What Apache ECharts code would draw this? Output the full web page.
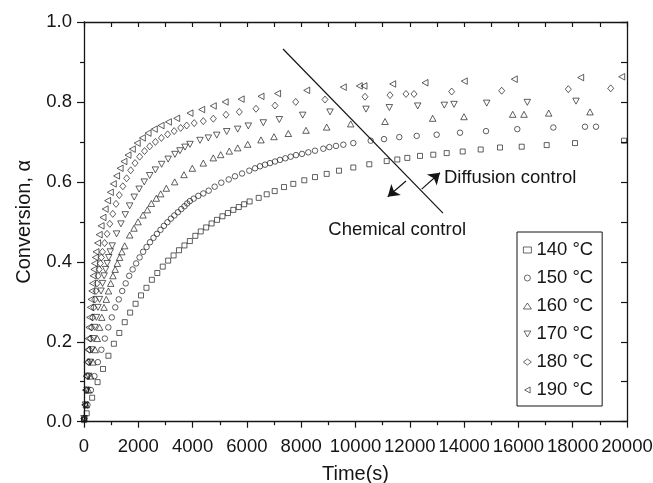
<!DOCTYPE html>
<html><head><meta charset="utf-8">
<script src="https://cdn.jsdelivr.net/npm/echarts@6/dist/echarts.min.js"></script>
<style>html,body{margin:0;padding:0;background:#fff}#c{width:653px;height:483px}</style>
</head><body><div id="c"></div>
<script>
// ---- data (time in s, conversion alpha) ----
const seriesNames = ['140 °C','150 °C','160 °C','170 °C','180 °C','190 °C'];
const s140 = [[0,0.004],[100,0.021],[300,0.06],[500,0.099],[700,0.132],[900,0.165],[1100,0.195],[1300,0.222],[1500,0.249],[1700,0.273],[1900,0.295],[2100,0.316],[2300,0.335],[2500,0.355],[2700,0.372],[2900,0.388],[3100,0.403],[3300,0.416],[3500,0.429],[3700,0.441],[3900,0.452],[4100,0.465],[4300,0.476],[4500,0.486],[4700,0.496],[4900,0.505],[5100,0.514],[5300,0.522],[5500,0.530],[5700,0.537],[5900,0.544],[6100,0.551],[6435,0.560],[6729,0.569],[7024,0.577],[7366,0.587],[7709,0.595],[8114,0.604],[8508,0.612],[8939,0.620],[9392,0.628],[9919,0.636],[10508,0.644],[11149,0.652],[11540,0.656],[11908,0.660],[12376,0.665],[12866,0.668],[13359,0.672],[13948,0.676],[14611,0.681],[15322,0.686],[16122,0.688],[17042,0.692],[18085,0.697],[19890,0.703]];
const s150 = [[0,0.008],[128,0.042],[256,0.079],[384,0.114],[512,0.149],[640,0.18],[768,0.208],[896,0.236],[1024,0.261],[1152,0.286],[1280,0.306],[1408,0.327],[1536,0.346],[1664,0.365],[1792,0.381],[1920,0.396],[2048,0.411],[2176,0.425],[2304,0.437],[2432,0.449],[2560,0.46],[2688,0.47],[2816,0.48],[2944,0.49],[3072,0.499],[3200,0.508],[3328,0.516],[3456,0.524],[3584,0.532],[3700,0.539],[3800,0.546],[3900,0.552],[4040,0.558],[4210,0.565],[4394,0.571],[4593,0.578],[4814,0.588],[5057,0.598],[5330,0.606],[5562,0.614],[5820,0.621],[6088,0.628],[6300,0.634],[6482,0.639],[6667,0.643],[6851,0.647],[7035,0.651],[7219,0.655],[7416,0.659],[7612,0.663],[7808,0.667],[8029,0.670],[8262,0.674],[8508,0.678],[8814,0.683],[9035,0.687],[9282,0.690],[9551,0.693],[9919,0.697],[10560,0.703],[11050,0.707],[11613,0.712],[12254,0.715],[12990,0.718],[13849,0.723],[14807,0.727],[15959,0.732],[17286,0.736],[18453,0.738],[18858,0.738]];
const s160 = [[0,0.008],[82,0.042],[164,0.079],[246,0.114],[328,0.149],[410,0.18],[492,0.208],[574,0.236],[656,0.261],[738,0.286],[820,0.306],[902,0.327],[984,0.346],[1066,0.365],[1148,0.381],[1230,0.396],[1312,0.411],[1394,0.425],[1498,0.44],[1683,0.467],[1842,0.484],[1989,0.50],[2173,0.517],[2333,0.53],[2480,0.546],[2664,0.559],[2825,0.570],[3032,0.584],[3340,0.600],[3683,0.618],[3990,0.634],[4394,0.647],[4762,0.660],[5035,0.668],[5352,0.677],[5661,0.685],[6029,0.694],[6519,0.705],[6998,0.713],[7525,0.721],[8177,0.729],[8939,0.737],[9823,0.745],[11087,0.751],[12843,0.759],[13996,0.763],[15790,0.769],[16206,0.769],[17116,0.772],[18637,0.775]];
const s170 = [[0,0.008],[57,0.042],[114,0.079],[171,0.114],[228,0.149],[285,0.18],[342,0.208],[399,0.236],[456,0.261],[513,0.286],[570,0.306],[627,0.327],[684,0.346],[741,0.365],[798,0.381],[855,0.396],[912,0.411],[969,0.425],[1040,0.44],[1200,0.47],[1360,0.495],[1520,0.518],[1680,0.54],[1850,0.562],[2030,0.582],[2220,0.600],[2420,0.616],[2630,0.630],[2860,0.644],[3100,0.657],[3350,0.669],[3536,0.678],[3720,0.687],[3904,0.694],[4273,0.704],[4580,0.710],[4889,0.717],[5257,0.726],[5661,0.732],[6052,0.740],[6605,0.748],[7194,0.756],[8055,0.767],[9061,0.775],[10387,0.782],[11247,0.786],[12291,0.790],[13271,0.792],[13628,0.794],[14833,0.797],[16328,0.799],[18122,0.802]];
const s180 = [[0,0.008],[40,0.042],[80,0.079],[120,0.114],[160,0.149],[200,0.18],[240,0.208],[280,0.236],[320,0.261],[360,0.286],[400,0.306],[440,0.327],[480,0.346],[520,0.365],[560,0.381],[600,0.396],[640,0.411],[680,0.425],[760,0.447],[850,0.47],[950,0.495],[1060,0.52],[1180,0.545],[1300,0.567],[1430,0.589],[1570,0.609],[1720,0.629],[1880,0.647],[2050,0.663],[2230,0.677],[2420,0.689],[2630,0.700],[2850,0.710],[3080,0.719],[3320,0.727],[3560,0.735],[3782,0.741],[4060,0.747],[4394,0.752],[4762,0.758],[5230,0.768],[5720,0.775],[6335,0.783],[7035,0.791],[7797,0.80],[8877,0.806],[10350,0.813],[11271,0.817],[11860,0.820],[12155,0.820],[13543,0.826],[15385,0.828],[17838,0.832],[19400,0.834]];
const s190 = [[0,0.008],[26,0.042],[52,0.079],[78,0.114],[104,0.149],[130,0.18],[156,0.208],[182,0.236],[208,0.261],[234,0.286],[260,0.306],[286,0.327],[312,0.346],[338,0.365],[364,0.381],[390,0.396],[416,0.411],[442,0.425],[500,0.447],[560,0.468],[630,0.49],[700,0.511],[780,0.532],[870,0.553],[970,0.574],[1080,0.595],[1200,0.615],[1330,0.634],[1470,0.651],[1620,0.667],[1780,0.682],[1960,0.697],[2150,0.71],[2360,0.722],[2590,0.732],[2840,0.741],[3110,0.750],[3414,0.759],[3904,0.772],[4335,0.781],[4762,0.790],[5200,0.80],[5790,0.807],[6520,0.814],[7130,0.821],[8203,0.829],[9551,0.837],[10140,0.840],[10313,0.840],[11370,0.845],[12560,0.848],[14007,0.852],[15849,0.857],[18294,0.861],[19805,0.863]];
// annotations (data coordinates)
const dividerLine = [[7330,0.9325],[13223,0.522]];
const arrowDiffusion = [[12438,0.582],[13112,0.623]];
const arrowChemical = [[11860,0.602],[11186,0.563]];
const labelDiffusion = {text:'Diffusion control', at:[13260,0.609]};
const labelChemical = {text:'Chemical control', at:[8998,0.4796]};

const FONT = '"Liberation Sans", Arial, Helvetica, sans-serif';
const INK = '#151515';
const symbols = ['rect','circle','triangle','path://M0,0L2,0L1,1.8Z','diamond','path://M1.8,0L1.8,2L0,1Z'];
const sizes = [5,5.5,[6.5,6],[6.5,6],[6,7],[6,6.5]];
const allData = [s140,s150,s160,s170,s180,s190];
const markerStyle = {color:'rgba(255,255,255,0)', borderColor:INK, borderWidth:0.85};

const chart = echarts.init(document.getElementById('c'), null, {renderer:'canvas'});
const series = allData.map((d,i)=>({
  name: seriesNames[i], type:'scatter', data:d, symbol:symbols[i], symbolSize:sizes[i],
  itemStyle: markerStyle, silent:true, emphasis:{disabled:true}, z:3
}));
series.push({type:'line', data:dividerLine, symbol:'none', silent:true,
  lineStyle:{color:INK, width:1.2}, z:2});
series.push({type:'lines', coordinateSystem:'cartesian2d', silent:true, z:2,
  symbol:['none','arrow'], symbolSize:[7,11],
  lineStyle:{color:INK, width:1.2, opacity:1},
  data:[{coords:arrowDiffusion},{coords:arrowChemical}]});

function axisCommon(){
  return {
    axisLine:{show:true, onZero:false, lineStyle:{color:INK, width:1.3}},
    splitLine:{show:false},
    minorSplitLine:{show:false}
  };
}
const option = {
  animation:false,
  backgroundColor:'#fff',
  textStyle:{fontFamily:FONT},
  grid:{left:84, top:22, width:543, height:399.7, containLabel:false, outerBoundsMode:'none'},
  legend:{
    orient:'vertical', left:517, top:232, padding:[8,9,6,6], itemGap:8,
    itemWidth:8, itemHeight:6, borderColor:INK, borderWidth:1, selectedMode:false,
    textStyle:{fontSize:18.5, fontFamily:FONT, color:INK, lineHeight:20},
    itemStyle:{color:'rgba(255,255,255,0)', borderColor:INK, borderWidth:0.8},
    data: seriesNames.map((n,i)=>({name:n, icon:symbols[i]}))
  },
  xAxis:[
    Object.assign(axisCommon(), {type:'value', min:0, max:20000, interval:2000, position:'bottom',
      axisTick:{show:true, inside:false, length:6, lineStyle:{color:INK, width:1.2}},
      minorTick:{show:true, splitNumber:2, length:3.5, lineStyle:{color:INK, width:1.2}},
      axisLabel:{fontSize:18.5, color:INK, margin:16, fontFamily:FONT, formatter:v=>String(v)},
      name:'Time(s)', nameLocation:'middle', nameGap:43,
      nameTextStyle:{fontSize:20, color:INK, fontFamily:FONT}}),
    Object.assign(axisCommon(), {type:'value', min:0, max:20000, interval:2000, position:'top',
      axisTick:{show:true, inside:true, length:5, lineStyle:{color:INK, width:1.2}},
      minorTick:{show:true, splitNumber:2, length:5, lineStyle:{color:INK, width:1.2}},
      axisLabel:{show:false}})
  ],
  yAxis:[
    Object.assign(axisCommon(), {type:'value', min:0, max:1, interval:0.2, position:'left',
      axisTick:{show:true, inside:false, length:7, lineStyle:{color:INK, width:1.2}},
      minorTick:{show:true, splitNumber:2, length:4, lineStyle:{color:INK, width:1.2}},
      axisLabel:{fontSize:18.5, color:INK, margin:12, fontFamily:FONT, formatter:v=>v.toFixed(1)},
      name:'Conversion, α', nameLocation:'middle', nameGap:50, nameRotate:90,
      nameTextStyle:{fontSize:20, color:INK, fontFamily:FONT}}),
    Object.assign(axisCommon(), {type:'value', min:0, max:1, interval:0.2, position:'right',
      axisTick:{show:true, inside:true, length:6, lineStyle:{color:INK, width:1.2}},
      minorTick:{show:true, splitNumber:2, length:6, lineStyle:{color:INK, width:1.2}},
      axisLabel:{show:false}})
  ],
  series: series
};
chart.setOption(option);
function txt(lbl){
  const p = chart.convertToPixel({gridIndex:0}, lbl.at);
  return {type:'text', x:p[0], y:p[1], silent:true, z:10,
    style:{text:lbl.text, fontSize:18.5, fontFamily:FONT, fill:INK, align:'left', verticalAlign:'middle'}};
}
chart.setOption({graphic:[txt(labelDiffusion), txt(labelChemical)]});
</script></body></html>
